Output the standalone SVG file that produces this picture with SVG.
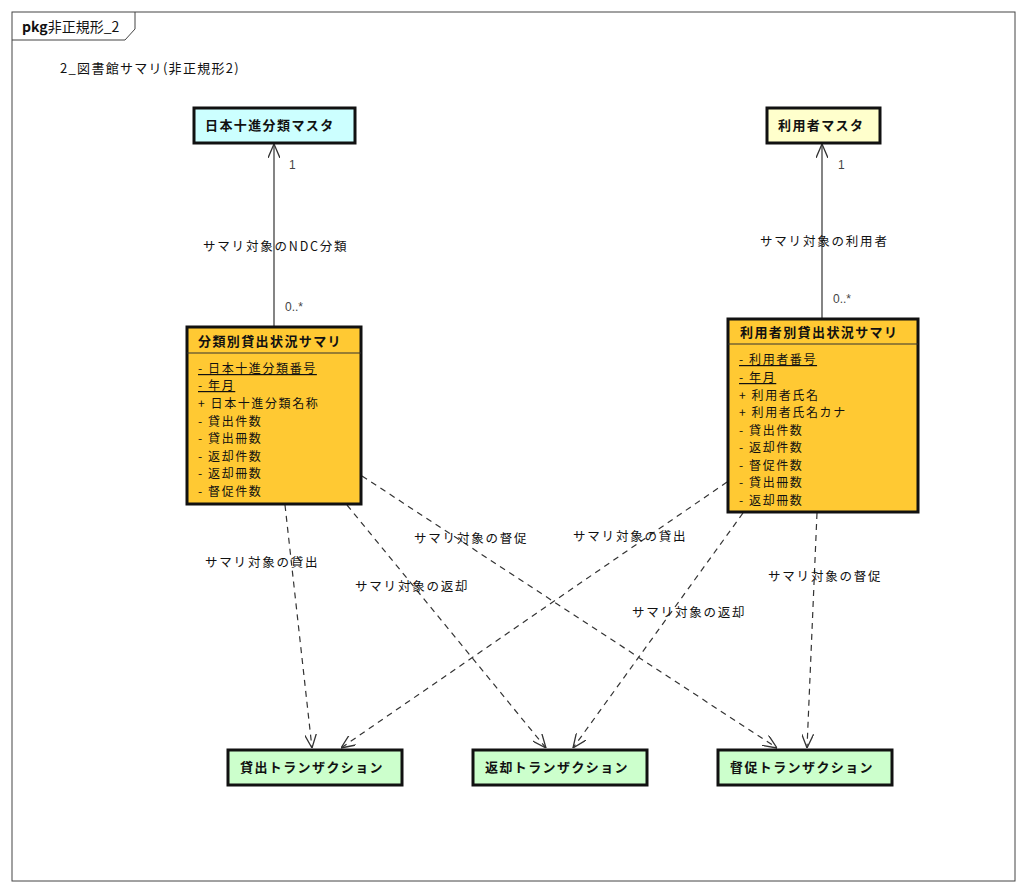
<svg xmlns="http://www.w3.org/2000/svg" width="1024" height="893" viewBox="0 0 1024 893">
<defs>
<marker id="open" viewBox="0 0 14 12" refX="14" refY="6" markerWidth="14" markerHeight="12" markerUnits="userSpaceOnUse" orient="auto">
<path d="M0,0 L14,6 L0,12" fill="none" stroke="#333" stroke-width="1.3"/>
</marker>
</defs>
<style>
text{font-family:"Noto Sans CJK JP","Noto Sans",sans-serif;fill:#111}
.title{font-size:13px;font-weight:bold;letter-spacing:1.4px}
.attr{font-size:12px;letter-spacing:1.6px}
.lbl{font-size:12.5px;letter-spacing:1.8px}
.mult{font-size:12px;fill:#444;font-family:"Liberation Sans",Arial,sans-serif}
.box{stroke:#111;stroke-width:3}
.solid{stroke:#333;stroke-width:1.2;fill:none}
.dash{stroke:#333;stroke-width:1.2;fill:none;stroke-dasharray:6,5}
</style>
<rect width="1024" height="893" fill="#fff"/>
<g id="frame">
<rect x="12" y="12" width="1003" height="869" fill="none" stroke="#444" stroke-width="1"/>
<path d="M12,40 L125,40 L135,29 L135,12" fill="none" stroke="#444" stroke-width="1"/>
<text x="22" y="32" style="font-size:14px"><tspan font-weight="bold">pkg</tspan>非正規形_2</text>
<text x="60" y="73" style="font-size:13px;letter-spacing:1.3px">2_図書館サマリ(非正規形2)</text>
</g>
<g id="connectors">
<line class="solid" x1="274" y1="326" x2="274" y2="144" marker-end="url(#open)"/>
<line class="solid" x1="822" y1="318" x2="822" y2="144" marker-end="url(#open)"/>
<line class="dash" x1="285" y1="505" x2="312" y2="748" marker-end="url(#open)"/>
<line class="dash" x1="347" y1="505" x2="546" y2="748" marker-end="url(#open)"/>
<line class="dash" x1="362" y1="476" x2="777" y2="748" marker-end="url(#open)"/>
<line class="dash" x1="727" y1="482" x2="341" y2="748" marker-end="url(#open)"/>
<line class="dash" x1="743" y1="513" x2="573" y2="748" marker-end="url(#open)"/>
<line class="dash" x1="817" y1="513" x2="807" y2="748" marker-end="url(#open)"/>
<text class="mult" x="289" y="169">1</text>
<text class="mult" x="285" y="311">0..*</text>
<text class="mult" x="838" y="169">1</text>
<text class="mult" x="833" y="303">0..*</text>
<text class="lbl" x="203" y="251">サマリ対象のNDC分類</text>
<text class="lbl" x="760" y="246">サマリ対象の利用者</text>
<text class="lbl" x="205" y="567">サマリ対象の貸出</text>
<text class="lbl" x="355" y="591">サマリ対象の返却</text>
<text class="lbl" x="414" y="543">サマリ対象の督促</text>
<text class="lbl" x="573" y="541">サマリ対象の貸出</text>
<text class="lbl" x="632" y="617">サマリ対象の返却</text>
<text class="lbl" x="768" y="581">サマリ対象の督促</text>
</g>
<g id="ndc-master">
<rect class="box" x="194" y="108" width="161" height="35" fill="#CCFFFF"/>
<text class="title" x="205" y="130">日本十進分類マスタ</text>
</g>
<g id="user-master">
<rect class="box" x="767" y="108" width="113" height="35" fill="#FFFFCC"/>
<text class="title" x="778" y="130">利用者マスタ</text>
</g>
<g id="ndc-summary">
<rect class="box" x="187" y="327" width="174" height="177" fill="#FFC933"/>
<line x1="187" y1="353" x2="361" y2="353" stroke="#333" stroke-width="1.2"/>
<text class="title" x="198" y="346">分類別貸出状況サマリ</text>
<text class="attr" x="198" y="373" text-decoration="underline">- 日本十進分類番号</text>
<text class="attr" x="198" y="390" text-decoration="underline">- 年月</text>
<text class="attr" x="198" y="408">+ 日本十進分類名称</text>
<text class="attr" x="198" y="426">- 貸出件数</text>
<text class="attr" x="198" y="443">- 貸出冊数</text>
<text class="attr" x="198" y="461">- 返却件数</text>
<text class="attr" x="198" y="478">- 返却冊数</text>
<text class="attr" x="198" y="496">- 督促件数</text>
</g>
<g id="user-summary">
<rect class="box" x="728" y="319" width="190" height="193" fill="#FFC933"/>
<line x1="728" y1="344" x2="918" y2="344" stroke="#333" stroke-width="1.2"/>
<text class="title" x="740" y="337">利用者別貸出状況サマリ</text>
<text class="attr" x="739" y="364" text-decoration="underline">- 利用者番号</text>
<text class="attr" x="739" y="382" text-decoration="underline">- 年月</text>
<text class="attr" x="739" y="400">+ 利用者氏名</text>
<text class="attr" x="739" y="417">+ 利用者氏名カナ</text>
<text class="attr" x="739" y="435">- 貸出件数</text>
<text class="attr" x="739" y="452">- 返却件数</text>
<text class="attr" x="739" y="470">- 督促件数</text>
<text class="attr" x="739" y="487">- 貸出冊数</text>
<text class="attr" x="739" y="505">- 返却冊数</text>
</g>
<g id="loan-tx">
<rect class="box" x="228" y="750" width="174" height="35" fill="#CCFFCC"/>
<text class="title" x="240" y="772">貸出トランザクション</text>
</g>
<g id="return-tx">
<rect class="box" x="473" y="750" width="174" height="35" fill="#CCFFCC"/>
<text class="title" x="485" y="772">返却トランザクション</text>
</g>
<g id="reminder-tx">
<rect class="box" x="718" y="750" width="174" height="35" fill="#CCFFCC"/>
<text class="title" x="730" y="772">督促トランザクション</text>
</g>
</svg>
